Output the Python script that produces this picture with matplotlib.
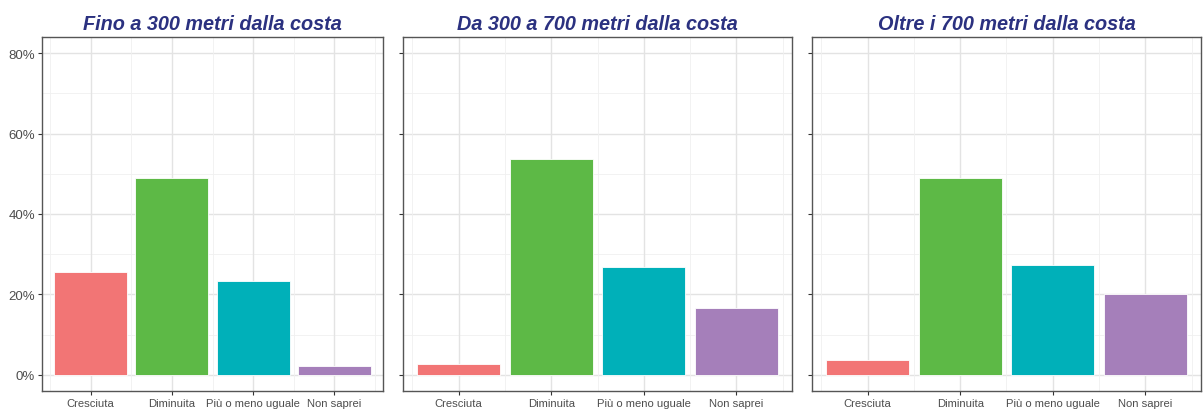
import numpy as np
import matplotlib.pyplot as plt
from matplotlib.ticker import FuncFormatter

plt.rcParams['font.family'] = ['Liberation Sans', 'DejaVu Sans']

categorie = ["Cresciuta", "Diminuita", "Più o meno uguale", "Non saprei"]
titoli = ["Fino a 300 metri dalla costa",
          "Da 300 a 700 metri dalla costa",
          "Oltre i 700 metri dalla costa"]
fino_300 = [25.5, 48.9, 23.4, 2.2]
da_300_700 = [2.6, 53.7, 26.9, 16.7]
oltre_700 = [3.7, 49.0, 27.3, 20.0]
valori = [fino_300, da_300_700, oltre_700]
colori = ["#F27575", "#5DB946", "#00B0B9", "#A57FBA"]

W, H = 1204, 410
fig = plt.figure(figsize=(W / 100, H / 100), dpi=100)
# bordi dei pannelli in pixel (sinistra, destra)
pannelli = [(42, 383), (403, 792), (812, 1201)]
bottom, top = 1 - 392 / H, 1 - 38 / H

x = np.arange(1, len(categorie) + 1)
for i, (tit, val) in enumerate(zip(titoli, valori)):
    l, r = pannelli[i]
    ax = fig.add_axes([l / W, bottom, (r - l) / W, top - bottom])
    # griglia stile theme_bw
    for yy in np.arange(0, 81, 20):
        ax.axhline(yy, color="#E3E3E3", lw=1.0, zorder=0)
    for yy in np.arange(10, 81, 20):
        ax.axhline(yy, color="#F0F0F0", lw=0.6, zorder=0)
    for xx in x:
        ax.axvline(xx, color="#E3E3E3", lw=1.0, zorder=0)
    for xx in np.arange(0.5, 5, 1):
        ax.axvline(xx, color="#F0F0F0", lw=0.6, zorder=0)
    ax.bar(x, val, width=0.9, color=colori, edgecolor="white", lw=0.6, zorder=2)
    ax.set_xlim(0.4, 4.6)
    ax.set_ylim(-4, 84)
    ax.set_xticks(x)
    ax.set_xticklabels(categorie, fontsize=8.1, color="#4D4D4D")
    ax.set_yticks([0, 20, 40, 60, 80])
    ax.yaxis.set_major_formatter(FuncFormatter(lambda v, p: "%d%%" % v))
    ax.tick_params(axis="both", length=3, width=0.8, color="#333333", pad=2)
    ax.tick_params(axis="y", labelsize=9.5, labelcolor="#4D4D4D")
    if i > 0:
        ax.set_yticklabels([])
    for s in ax.spines.values():
        s.set_color("#555555")
        s.set_linewidth(1.0)
    ax.set_title(tit, fontsize=14.3, fontweight="bold", fontstyle="italic",
                 color="#2B3180", pad=6)

plt.savefig("out.png", dpi=100)
